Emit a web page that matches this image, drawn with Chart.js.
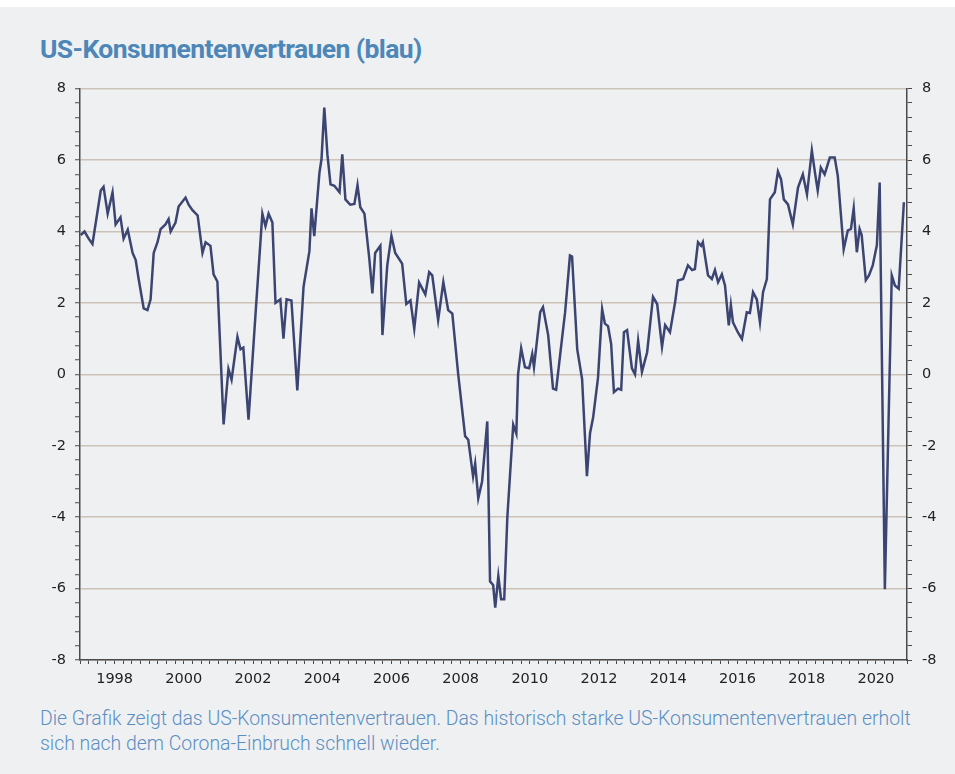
<!DOCTYPE html>
<html lang="de">
<head>
<meta charset="utf-8">
<script src="https://cdn.jsdelivr.net/npm/chart.js@4"></script>
<style>
  html, body { margin: 0; padding: 0; background: #ffffff; }
  body { width: 955px; height: 774px; position: relative; overflow: hidden; }
  .panel { position: absolute; left: 0; top: 7px; width: 955px; height: 767px; background: #eef0f2; }
  .title { position: absolute; left: 40px; top: 33px; font-family: Roboto, sans-serif; font-weight: 700;
           font-size: 26.5px; letter-spacing: -0.6px; color: #4d87b8; white-space: nowrap; }
  .caption { position: absolute; left: 40px; top: 706px; width: 910px; font-family: Roboto, sans-serif; font-weight: 300;
             font-size: 19.4px; line-height: 25px; color: #5b8fc2; white-space: nowrap; }
  #chartBox { position: absolute; left: 0; top: 70px; width: 955px; height: 630px; }
</style>
</head>
<body>
<div class="panel"></div>
<div class="title">US-Konsumentenvertrauen (blau)</div>
<div id="chartBox"><canvas id="confChart" width="955" height="630"></canvas></div>
<div class="caption">Die Grafik zeigt das US-Konsumentenvertrauen. Das historisch starke US-Konsumentenvertrauen erholt<br>sich nach dem Corona-Einbruch schnell wieder.</div>
<script>
// time positions (decimal years) and index values
const years = [
  1997.02, 1997.13, 1997.25, 1997.36, 1997.48, 1997.60, 1997.68, 1997.80, 1997.94,
  1998.03, 1998.17, 1998.26, 1998.38, 1998.52, 1998.61, 1998.69, 1998.84, 1998.95,
  1999.04, 1999.13, 1999.24, 1999.33, 1999.47, 1999.56, 1999.62, 1999.76, 1999.85,
  2000.05, 2000.14, 2000.25, 2000.40, 2000.54, 2000.63, 2000.77, 2000.86, 2000.97,
  2001.15, 2001.29, 2001.38, 2001.55, 2001.64, 2001.72, 2001.87,
  2002.07, 2002.27, 2002.36, 2002.45, 2002.56, 2002.65, 2002.79, 2002.88, 2002.97,
  2003.11, 2003.28, 2003.46, 2003.63, 2003.69, 2003.77, 2003.92, 2003.98,
  2004.06, 2004.15, 2004.24, 2004.35, 2004.50, 2004.58, 2004.67, 2004.81, 2004.93,
  2005.02, 2005.10, 2005.22, 2005.36, 2005.45, 2005.53, 2005.68, 2005.74, 2005.88,
  2006.00, 2006.11, 2006.31, 2006.43, 2006.55, 2006.66, 2006.80, 2006.98,
  2007.09, 2007.18, 2007.35, 2007.50, 2007.64, 2007.76, 2007.93,
  2008.13, 2008.22, 2008.36, 2008.42, 2008.51, 2008.62, 2008.77, 2008.85, 2008.94,
  2009.00, 2009.09, 2009.17, 2009.26, 2009.35, 2009.52, 2009.61, 2009.66, 2009.75, 2009.86, 2009.98,
  2010.07, 2010.12, 2010.30, 2010.38, 2010.53, 2010.67, 2010.76, 2010.93,
  2011.02, 2011.16, 2011.22, 2011.37, 2011.51, 2011.65, 2011.74, 2011.83, 2011.97,
  2012.09, 2012.17, 2012.26, 2012.35, 2012.43, 2012.55, 2012.64, 2012.72, 2012.81, 2012.95,
  2013.04, 2013.13, 2013.24, 2013.39, 2013.56, 2013.68, 2013.82, 2013.91,
  2014.05, 2014.20, 2014.28, 2014.43, 2014.57, 2014.69, 2014.77, 2014.86, 2014.95,
  2015.00, 2015.15, 2015.26, 2015.35, 2015.44, 2015.55, 2015.64, 2015.75, 2015.81, 2015.87,
  2016.01, 2016.13, 2016.27, 2016.36, 2016.45, 2016.56, 2016.65, 2016.74, 2016.85, 2016.94,
  2017.08, 2017.17, 2017.26, 2017.34, 2017.46, 2017.60, 2017.75, 2017.89,
  2018.01, 2018.15, 2018.24, 2018.32, 2018.41, 2018.52, 2018.67, 2018.81, 2018.90,
  2019.07, 2019.19, 2019.28, 2019.36, 2019.45, 2019.53, 2019.59, 2019.71, 2019.80, 2019.91,
  2020.03, 2020.11, 2020.26, 2020.46, 2020.55, 2020.66, 2020.81
];
const confidence = [
  3.9, 4.0, 3.8, 3.65, 4.4, 5.15, 5.25, 4.5, 5.1,
  4.2, 4.4, 3.8, 4.05, 3.4, 3.2, 2.7, 1.85, 1.8,
  2.1, 3.4, 3.7, 4.07, 4.2, 4.35, 4.0, 4.25, 4.7,
  4.95, 4.75, 4.6, 4.45, 3.4, 3.7, 3.6, 2.8, 2.6,
  -1.4, 0.15, -0.15, 1.05, 0.7, 0.75, -1.27,
  1.65, 4.5, 4.15, 4.5, 4.25, 2.0, 2.1, 1.0, 2.1,
  2.07, -0.45, 2.45, 3.45, 4.65, 3.87, 5.65, 6.03,
  7.47, 6.16, 5.32, 5.28, 5.1, 6.16, 4.9, 4.75, 4.77,
  5.3, 4.68, 4.5, 3.25, 2.27, 3.4, 3.6, 1.1, 3.05,
  3.88, 3.4, 3.1, 1.97, 2.07, 1.28, 2.57, 2.24,
  2.86, 2.77, 1.52, 2.58, 1.8, 1.7, 0.0,
  -1.73, -1.83, -2.86, -2.5, -3.47, -3.0, -1.32, -5.8, -5.9,
  -6.53, -5.65, -6.3, -6.3, -4.0, -1.41, -1.66, 0.0, 0.73, 0.2, 0.17,
  0.57, 0.2, 1.74, 1.88, 1.1, -0.4, -0.43, 1.0,
  1.74, 3.33, 3.3, 0.7, -0.13, -2.85, -1.65, -1.2, -0.1,
  1.83, 1.42, 1.35, 0.85, -0.5, -0.4, -0.43, 1.18, 1.24, 0.17,
  0.0, 0.94, 0.07, 0.62, 2.17, 1.97, 0.77, 1.38,
  1.18, 2.03, 2.63, 2.67, 3.05, 2.92, 2.95, 3.7, 3.6,
  3.7, 2.77, 2.67, 2.92, 2.58, 2.8, 2.49, 1.37, 1.94, 1.46,
  1.18, 0.99, 1.74, 1.72, 2.3, 2.1, 1.46, 2.3, 2.67, 4.9,
  5.1, 5.68, 5.46, 4.9, 4.76, 4.2, 5.23, 5.6,
  5.04, 6.27, 5.65, 5.15, 5.79, 5.6, 6.07, 6.07, 5.56,
  3.5, 4.03, 4.07, 4.65, 3.42, 4.07, 3.9, 2.64, 2.77, 3.05,
  3.62, 5.37, -6.02, 2.77, 2.49, 2.4, 4.82
];
const yearLabels = [1998, 2000, 2002, 2004, 2006, 2008, 2010, 2012, 2014, 2016, 2018, 2020];
const valueLabels = [-8, -6, -4, -2, 0, 2, 4, 6, 8];

const tickFont = { family: "'DejaVu Sans', sans-serif", size: 14.5 };
const tickColor = "#222222";
const axisColor = "#4a4a4a";
const gridColor = "#cdc2b8";

function isLabel(list, v) {
    return list.some(l => Math.abs(l - v) < 1e-6);
}

const points = years.map((x, i) => ({ x: x, y: confidence[i] }));

new Chart(document.getElementById("confChart").getContext("2d"), {
    type: "line",
    data: {
        datasets: [{
            label: "US-Konsumentenvertrauen",
            data: points,
            borderColor: "#3c4572",
            borderWidth: 2.5,
            pointRadius: 0,
            tension: 0,
            yAxisID: "y"
        }]
    },
    options: {
        responsive: false,
        animation: false,
        layout: { padding: { top: 16, left: 0, right: 0, bottom: 0 } },
        plugins: { legend: { display: false }, tooltip: { enabled: false } },
        scales: {
            x: {
                type: "linear",
                min: 1997,
                max: 2020.9,
                ticks: {
                    stepSize: 0.25,
                    autoSkip: false,
                    maxRotation: 0,
                    minRotation: 0,
                    padding: 7,
                    color: tickColor,
                    font: tickFont,
                    callback: v => isLabel(yearLabels, v) ? String(Math.round(v)) : ""
                },
                grid: { drawOnChartArea: false, tickLength: 4, color: axisColor, tickColor: axisColor },
                border: { color: axisColor, width: 1.5 },
                afterFit: s => { s.height = 40; }
            },
            y: {
                position: "left",
                min: -8,
                max: 8,
                ticks: {
                    stepSize: 0.4,
                    autoSkip: false,
                    padding: 9,
                    color: tickColor,
                    font: tickFont,
                    callback: v => isLabel(valueLabels, v) ? String(Math.round(v)) : ""
                },
                grid: {
                    tickLength: 5,
                    lineWidth: 1.5,
                    color: c => (c.tick && isLabel(valueLabels, c.tick.value)) ? gridColor : "rgba(0,0,0,0)",
                    tickColor: axisColor,
                    tickWidth: 1
                },
                border: { color: axisColor, width: 1.5 },
                afterFit: s => { s.width = 80; }
            },
            y1: {
                position: "right",
                min: -8,
                max: 8,
                ticks: {
                    stepSize: 0.4,
                    autoSkip: false,
                    padding: 10,
                    color: tickColor,
                    font: tickFont,
                    callback: v => isLabel(valueLabels, v) ? String(Math.round(v)) : ""
                },
                grid: { drawOnChartArea: false, tickLength: 5, color: axisColor, tickColor: axisColor, tickWidth: 1 },
                border: { color: axisColor, width: 1.5 },
                afterFit: s => { s.width = 48; }
            }
        }
    }
});
</script>
</body>
</html>
